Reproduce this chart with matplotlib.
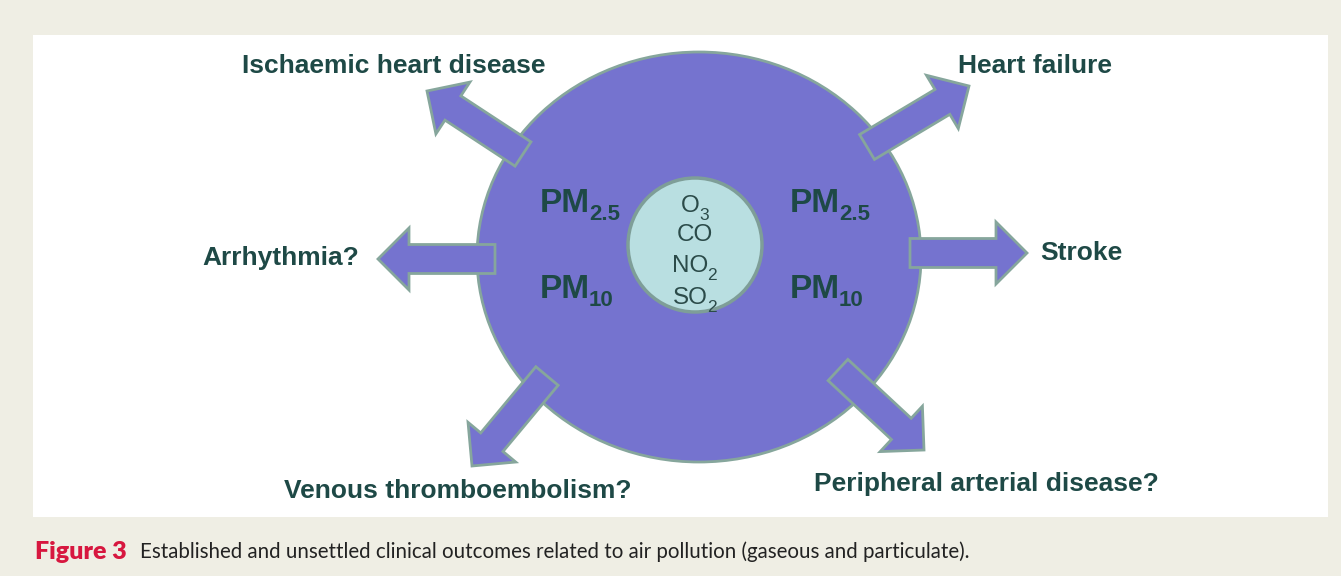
import matplotlib
matplotlib.use('Agg')
import matplotlib.pyplot as plt
from matplotlib.patches import Ellipse, Circle, FancyArrow, Rectangle

# outcomes around the circle
outcomes = ['Ischaemic heart disease', 'Heart failure', 'Arrhythmia?', 'Stroke',
            'Venous thromboembolism?', 'Peripheral arterial disease?']
particulates = ['2.5', '10']
gases = [('O', '3'), ('CO', ''), ('NO', '2'), ('SO', '2')]
fig_label = 'Figure 3'
caption = 'Established and unsettled clinical outcomes related to air pollution (gaseous and particulate).'

# layout in pixel units (x right, y down)
arrows = [(523, 154, 427, 91), (867, 147, 969, 86), (495, 259, 378, 259),
          (910, 253, 1027, 253), (547, 376, 472, 466), (838, 370, 924, 450)]
label_pos = [(394, 66), (1035, 66), (281, 258), (1081, 253), (458, 491), (986, 484)]

purple = '#7573cf'
edge = '#86a69c'
dark = '#1e4946'

fig = plt.figure(figsize=(13.41, 5.76), dpi=100)
fig.patch.set_facecolor('#efeee4')
ax = fig.add_axes([0, 0, 1, 1])
ax.set_xlim(0, 1341)
ax.set_ylim(576, 0)
ax.axis('off')

ax.add_patch(Rectangle((33, 35), 1295, 482, facecolor='white', edgecolor='none', zorder=0))
ax.add_patch(Ellipse((699, 257), 444, 410, facecolor=purple, edgecolor=edge, lw=2, zorder=1))
ax.add_patch(Circle((695, 245), 67, facecolor='#b9dfe1', edgecolor='#7e9e98', lw=2.5, zorder=3))

for (x0, y0, x1, y1) in arrows:
    ax.add_patch(FancyArrow(x0, y0, x1 - x0, y1 - y0, width=29, head_width=62, head_length=31,
                            length_includes_head=True, facecolor=purple, edgecolor=edge,
                            lw=2, zorder=2))

for text, (x, y) in zip(outcomes, label_pos):
    ax.text(x, y, text, ha='center', va='center', fontsize=19, fontweight='bold',
            color=dark, family='Liberation Sans', zorder=4)

# PM labels on both sides
for px in [540, 790]:
    for sub, py in zip(particulates, [204, 290]):
        ax.text(px, py, 'PM', ha='left', va='center', fontsize=24, fontweight='bold',
                color=dark, family='Liberation Sans', zorder=4)
        ax.text(px + 49, py + 11, sub, ha='left', va='center', fontsize=16, fontweight='bold',
                color=dark, family='Liberation Sans', zorder=4)

# gases: main text then subscript placed after its measured extent
renderer = fig.canvas.get_renderer()
for (g, sub), gy in zip(gases, [206, 235, 266, 298]):
    cx = 695 - 5 * (sub != '')
    t = ax.text(cx, gy, g, ha='center', va='center', fontsize=17.5,
                color='#2b4b49', family='Liberation Sans', zorder=4)
    if sub:
        bb = t.get_window_extent(renderer=renderer)
        ax.text(cx + bb.width / 2 - 0.5, gy + 9, sub, ha='left', va='center', fontsize=12.5,
                color='#2b4b49', family='Liberation Sans', zorder=4)

ax.text(35, 552, fig_label, ha='left', va='center', fontsize=18, fontweight='heavy',
        color='#d7173f', family='Lato')
ax.text(140, 552, caption, ha='left', va='center', fontsize=14.8, color='#222222', family='Lato')

fig.savefig('out.png', dpi=100, facecolor=fig.get_facecolor())
